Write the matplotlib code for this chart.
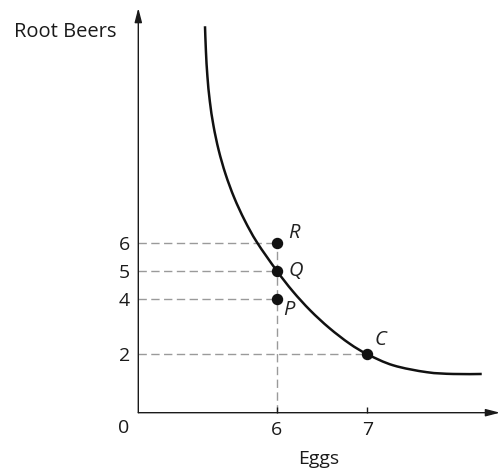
import matplotlib
matplotlib.use("Agg")
import matplotlib.pyplot as plt
from matplotlib.path import Path
from matplotlib.patches import PathPatch

plt.rcParams["font.family"] = ["Open Sans", "DejaVu Sans"]
plt.rcParams["lines.scale_dashes"] = False

# Indifference curve through Q and C
curve_eggs = [5.2086, 5.2188, 5.2351, 5.2616, 5.3024, 5.3598, 5.4359,
              5.5313, 5.6469, 5.7818, 6.0, 6.1774, 6.3708, 6.5802, 6.8046,
              7.0, 7.287, 7.656, 7.949, 8.263]
curve_beers = [13.776, 12.879, 11.982, 11.089, 10.201, 9.324, 8.461,
               7.619, 6.804, 6.020, 5.0, 4.260, 3.571, 2.942, 2.379,
               2.0, 1.600, 1.355, 1.290, 1.290]

# Labelled bundles
point_names = ["R", "Q", "P", "C"]
point_eggs = [6, 6, 6, 7]
point_beers = [6, 5, 4, 2]

x_ticks = [6, 7]
y_ticks = [2, 4, 5, 6]

X_MIN, X_MAX = 4.4724, 8.4647
Y_MIN, Y_MAX = -0.1, 14.43


def smooth_path(xs, ys):
    """Catmull-Rom curve through the given points, as cubic Bezier segments."""
    pts = list(zip(xs, ys))
    ext = [pts[0]] + pts + [pts[-1]]
    verts = [pts[0]]
    codes = [Path.MOVETO]
    for i in range(1, len(ext) - 2):
        p0, p1, p2, p3 = ext[i - 1], ext[i], ext[i + 1], ext[i + 2]
        c1 = (p1[0] + (p2[0] - p0[0]) / 6, p1[1] + (p2[1] - p0[1]) / 6)
        c2 = (p2[0] - (p3[0] - p1[0]) / 6, p2[1] - (p3[1] - p1[1]) / 6)
        verts += [c1, c2, p2]
        codes += [Path.CURVE4] * 3
    return Path(verts, codes)


fig = plt.figure(figsize=(5.0, 4.73), dpi=100)
ax = fig.add_axes([0.2766, 0.1275, 0.7234, 0.983 - 0.1275])
ax.set_xlim(X_MIN, X_MAX)
ax.set_ylim(Y_MIN, Y_MAX)

for s in ax.spines.values():
    s.set_visible(False)

# Axes with arrow heads
arrow_kw = dict(arrowstyle="-|>,head_length=0.85,head_width=0.22",
                color="#1a1a1a", lw=1.0, shrinkA=0, shrinkB=0)
ax.annotate("", xy=(1.0, 0), xytext=(0, 0), xycoords="axes fraction",
            arrowprops=arrow_kw, annotation_clip=False)
ax.annotate("", xy=(0, 1.0), xytext=(0, 0), xycoords="axes fraction",
            arrowprops=arrow_kw, annotation_clip=False)

# Dashed guide lines
dash_kw = dict(color="#9a9a9a", lw=1.0, dashes=(6, 3.2), zorder=1)
for e, b in zip(point_eggs, point_beers):
    ax.plot([X_MIN, e], [b, b], **dash_kw)
ax.plot([6, 6], [Y_MIN, 6], **dash_kw)

# Curve
ax.add_patch(PathPatch(smooth_path(curve_eggs, curve_beers), fill=False,
                       edgecolor="#111111", lw=1.8, capstyle="butt",
                       joinstyle="round", zorder=2))

# Bundle points and labels
ax.plot(point_eggs, point_beers, "o", color="#111111", ms=7.2, zorder=3)
label_offsets = {"R": (0.19, 0.36), "Q": (0.21, 0.0), "P": (0.13, -0.42),
                 "C": (0.15, 0.5)}
for n, e, b in zip(point_names, point_eggs, point_beers):
    dx, dy = label_offsets[n]
    ax.text(e + dx, b + dy, n, style="italic", fontsize=14.5,
            color="#222222", ha="center", va="center")

# Ticks
ax.set_xticks(x_ticks)
ax.set_xticklabels([str(v) for v in x_ticks])
ax.set_yticks(y_ticks)
ax.set_yticklabels([str(v) for v in y_ticks])
ax.tick_params(axis="x", direction="in", length=4, width=1.0, pad=6,
               labelsize=14, colors="#1a1a1a")
ax.tick_params(axis="y", direction="in", length=0, width=1.0, pad=6,
               labelsize=14, colors="#1a1a1a")

ax.text(-0.041, -0.016, "0", transform=ax.transAxes, fontsize=14,
        color="#1a1a1a", ha="center", va="top")

fig.text(319 / 500, 1 - 459 / 473, "Eggs", fontsize=14, color="#1a1a1a",
         ha="center", va="center")
fig.text(65 / 500, 1 - 32 / 473, "Root Beers", fontsize=14.5,
         color="#1a1a1a", ha="center", va="center")

fig.savefig("out.png", dpi=100)
